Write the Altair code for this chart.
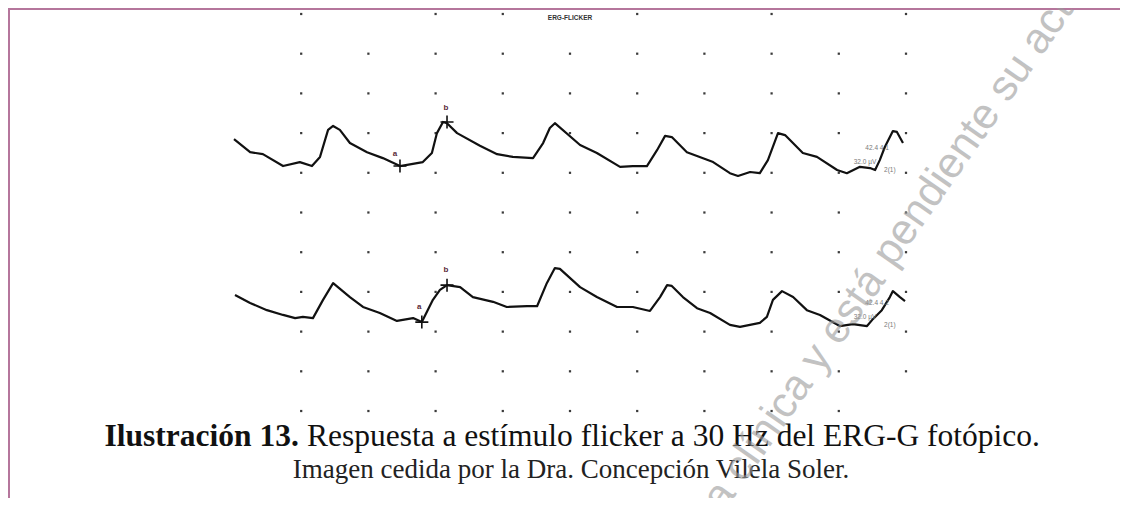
import altair as alt
import pandas as pd

# ---------------- data (time in ms, amplitude in µV) ----------------
trace1_t = [0.0, 4.8, 8.6, 14.6, 19.6, 23.2, 25.6, 28.0, 29.5, 31.5, 34.5, 39.6, 44.3, 49.4,
            56.2, 58.9, 60.4, 62.2, 63.4, 66.4, 73.2, 78.3, 83.0, 89.0, 92.0, 94.0, 95.5,
            103.0, 108.0, 114.9, 118.7, 122.9, 125.9, 128.3, 130.3, 134.8, 142.6, 147.6,
            150.0, 153.6, 156.5, 158.9, 161.9, 164.0, 169.3, 173.5, 179.5, 182.4, 186.3,
            189.3, 190.8, 192.2, 193.7, 196.1, 197.3, 199.1]
trace1_v = [68.5, 65.2, 64.7, 61.7, 62.7, 61.7, 64.0, 70.8, 71.8, 70.8, 67.5, 65.2, 63.7, 61.7,
            62.7, 65.0, 70.0, 72.8, 72.5, 70.0, 66.8, 64.7, 64.0, 63.7, 67.5, 71.3, 72.5,
            67.0, 65.0, 61.5, 61.7, 61.7, 65.7, 69.3, 69.0, 65.2, 62.7, 59.9,
            59.2, 60.2, 59.9, 63.2, 70.0, 69.5, 65.0, 64.0, 60.7, 59.9, 61.5,
            61.2, 60.7, 63.2, 66.5, 70.5, 70.3, 67.5]

trace2_t = [0.3, 4.8, 9.8, 14.6, 18.2, 20.5, 23.5, 26.5, 29.5, 34.5, 38.4, 43.4, 48.5, 53.3,
            55.9, 59.2, 61.3, 63.4, 67.3, 71.1, 77.1, 81.2, 87.2, 90.2, 93.1, 95.5, 97.0,
            103.0, 108.0, 114.0, 118.7, 123.8, 126.8, 128.9, 130.3, 133.6, 137.8, 141.7,
            147.6, 150.6, 156.5, 158.6, 160.4, 163.1, 166.4, 170.5, 174.4, 180.3, 184.2,
            188.4, 190.2, 192.8, 195.2, 196.1, 198.2, 199.7]
trace2_v = [29.2, 27.2, 25.4, 24.2, 23.4, 23.7, 23.4, 28.0, 32.2, 28.7, 26.2, 24.7, 22.7, 23.4,
            22.4, 28.0, 30.5, 31.7, 31.2, 28.7, 27.5, 26.2, 26.4, 26.4, 32.2, 36.0, 35.8,
            31.2, 28.7, 26.2, 26.2, 25.2, 28.7, 31.7, 31.5, 28.7, 25.9, 24.7,
            21.7, 21.2, 22.2, 23.7, 28.0, 30.2, 28.7, 25.4, 24.2, 21.4, 21.9,
            21.4, 23.2, 25.4, 28.7, 30.2, 28.7, 27.7]

# grid of dots (20 ms x 10 µV)
grid_t = [20, 40, 60, 80, 100, 120, 140, 160, 180, 200]
grid_v = [0, 10, 20, 30, 40, 50, 60, 70, 80, 90, 100]
top_row_t = [20, 60, 80, 120, 160, 200]
bottom_row_t = [20, 40, 60, 80, 100, 120, 140, 160, 180]

# cursors a / b
cross_t = [49.4, 63.4, 55.9, 63.4]
cross_v = [61.7, 72.8, 22.4, 31.7]
label_text = ["a", "b", "a", "b"]
label_t = [47.9, 63.1, 55.1, 63.1]
label_v = [64.7, 76.3, 26.2, 35.5]

# small measurement readouts
info_text = ["42.4  4.1", "32.0  µV", "2(1)", "42.4  4.2", "32.0  µV", "2(1)"]
info_t = [191.4, 187.8, 195.2, 191.4, 187.8, 195.2]
info_v = [66.2, 62.7, 60.7, 27.2, 23.7, 21.7]

header_text = ["ERG-FLICKER"]
header_t = [100.0]
header_v = [99.0]

caption_bold = "Ilustración 13."
caption_rest = "Respuesta a estímulo flicker a 30 Hz del ERG-G fotópico."
caption_line2 = "Imagen cedida por la Dra. Concepción Vilela Soler."

watermark_a = "pendiente su actualización"
watermark_b = "práctica clínica y está"

# ---------------- layout helpers ----------------
W, H = 1112, 490
XS = alt.Scale(domain=[-67.26, 263.69], nice=False, zero=False)
YS = alt.Scale(domain=[-21.91, 101.51], nice=False, zero=False)


def enc(**extra):
    return dict(x=alt.X("t:Q", scale=XS, axis=None),
                y=alt.Y("v:Q", scale=YS, axis=None), **extra)


rows = []
for v in grid_v:
    cols = top_row_t if v == 100 else (bottom_row_t if v == 0 else grid_t)
    for t in cols:
        rows.append({"t": t, "v": v})
dots_df = pd.DataFrame(rows)

traces_df = pd.concat([
    pd.DataFrame({"t": trace1_t, "v": trace1_v, "trace": "upper"}),
    pd.DataFrame({"t": trace2_t, "v": trace2_v, "trace": "lower"}),
])

cross_df = pd.DataFrame({"t": cross_t, "v": cross_v})
labels_df = pd.DataFrame({"t": label_t, "v": label_v, "txt": label_text})
info_df = pd.DataFrame({"t": info_t, "v": info_v, "txt": info_text})
header_df = pd.DataFrame({"t": header_t, "v": header_v, "txt": header_text})

cap_bold_df = pd.DataFrame({"t": [19.3], "v": [-8.8], "txt": [caption_bold]})
cap_rest_df = pd.DataFrame({"t": [21.7], "v": [-8.8], "txt": [caption_rest]})
cap2_df = pd.DataFrame({"t": [100.3], "v": [-16.9], "txt": [caption_line2]})

wm_a_df = pd.DataFrame({"t": [193.0], "v": [37.8], "txt": [watermark_a]})
wm_b_df = pd.DataFrame({"t": [191.0], "v": [34.8], "txt": [watermark_b]})

one = pd.DataFrame({"k": [0]})
border_color = "#b5769c"

left_border = alt.Chart(one).mark_rule(color=border_color, strokeWidth=2).encode(
    x=alt.value(1), y=alt.value(0), y2=alt.value(H))
top_border = alt.Chart(one).mark_rule(color=border_color, strokeWidth=2).encode(
    x=alt.value(0), x2=alt.value(W), y=alt.value(1))

dots = alt.Chart(dots_df).mark_square(size=5, color="#3a3a3a", opacity=1).encode(**enc())

traces = alt.Chart(traces_df).mark_line(color="#111111", strokeWidth=2.2,
                                        strokeJoin="round").encode(**enc(detail="trace:N"))

crosses = alt.Chart(cross_df).mark_point(shape="M-1,0L1,0M0,-1L0,1", size=170,
                                         color="#111111", strokeWidth=1.6,
                                         filled=False, opacity=1).encode(**enc())

labels = alt.Chart(labels_df).mark_text(fontSize=8, fontWeight="bold", color="#5a2a3a",
                                        font="Liberation Sans").encode(**enc(text="txt:N"))

info = alt.Chart(info_df).mark_text(fontSize=6.5, color="#7a7a7a", font="Liberation Sans",
                                    align="center").encode(**enc(text="txt:N"))

header = alt.Chart(header_df).mark_text(fontSize=6.5, fontWeight="bold", color="#333333",
                                        font="Liberation Sans").encode(**enc(text="txt:N"))

cap_bold = alt.Chart(cap_bold_df).mark_text(font="Liberation Serif", fontSize=31.5,
                                            fontWeight="bold", align="right",
                                            baseline="alphabetic", color="#111111"
                                            ).encode(**enc(text="txt:N"))
cap_rest = alt.Chart(cap_rest_df).mark_text(font="Liberation Serif", fontSize=31.5,
                                            align="left", baseline="alphabetic",
                                            color="#111111").encode(**enc(text="txt:N"))
cap2 = alt.Chart(cap2_df).mark_text(font="Liberation Serif", fontSize=27, align="center",
                                    baseline="alphabetic", color="#222222"
                                    ).encode(**enc(text="txt:N"))

wm_a = alt.Chart(wm_a_df).mark_text(font="Liberation Sans", fontSize=43, angle=305,
                                    align="left", baseline="middle", color="#9a9a9a",
                                    opacity=0.6, clip=True).encode(**enc(text="txt:N"))
wm_b = alt.Chart(wm_b_df).mark_text(font="Liberation Sans", fontSize=43, angle=305,
                                    align="right", baseline="middle", color="#9a9a9a",
                                    opacity=0.6, clip=True).encode(**enc(text="txt:N"))

chart = alt.layer(
    left_border, top_border, dots, traces, crosses, labels, info, header,
    cap_bold, cap_rest, cap2, wm_a, wm_b
).properties(
    width=W, height=H, padding=0,
    autosize=alt.AutoSizeParams(type="none"),
    background="white",
).configure_view(stroke=None)

chart.save("out.html", embed_options={"renderer": "svg", "actions": False})
